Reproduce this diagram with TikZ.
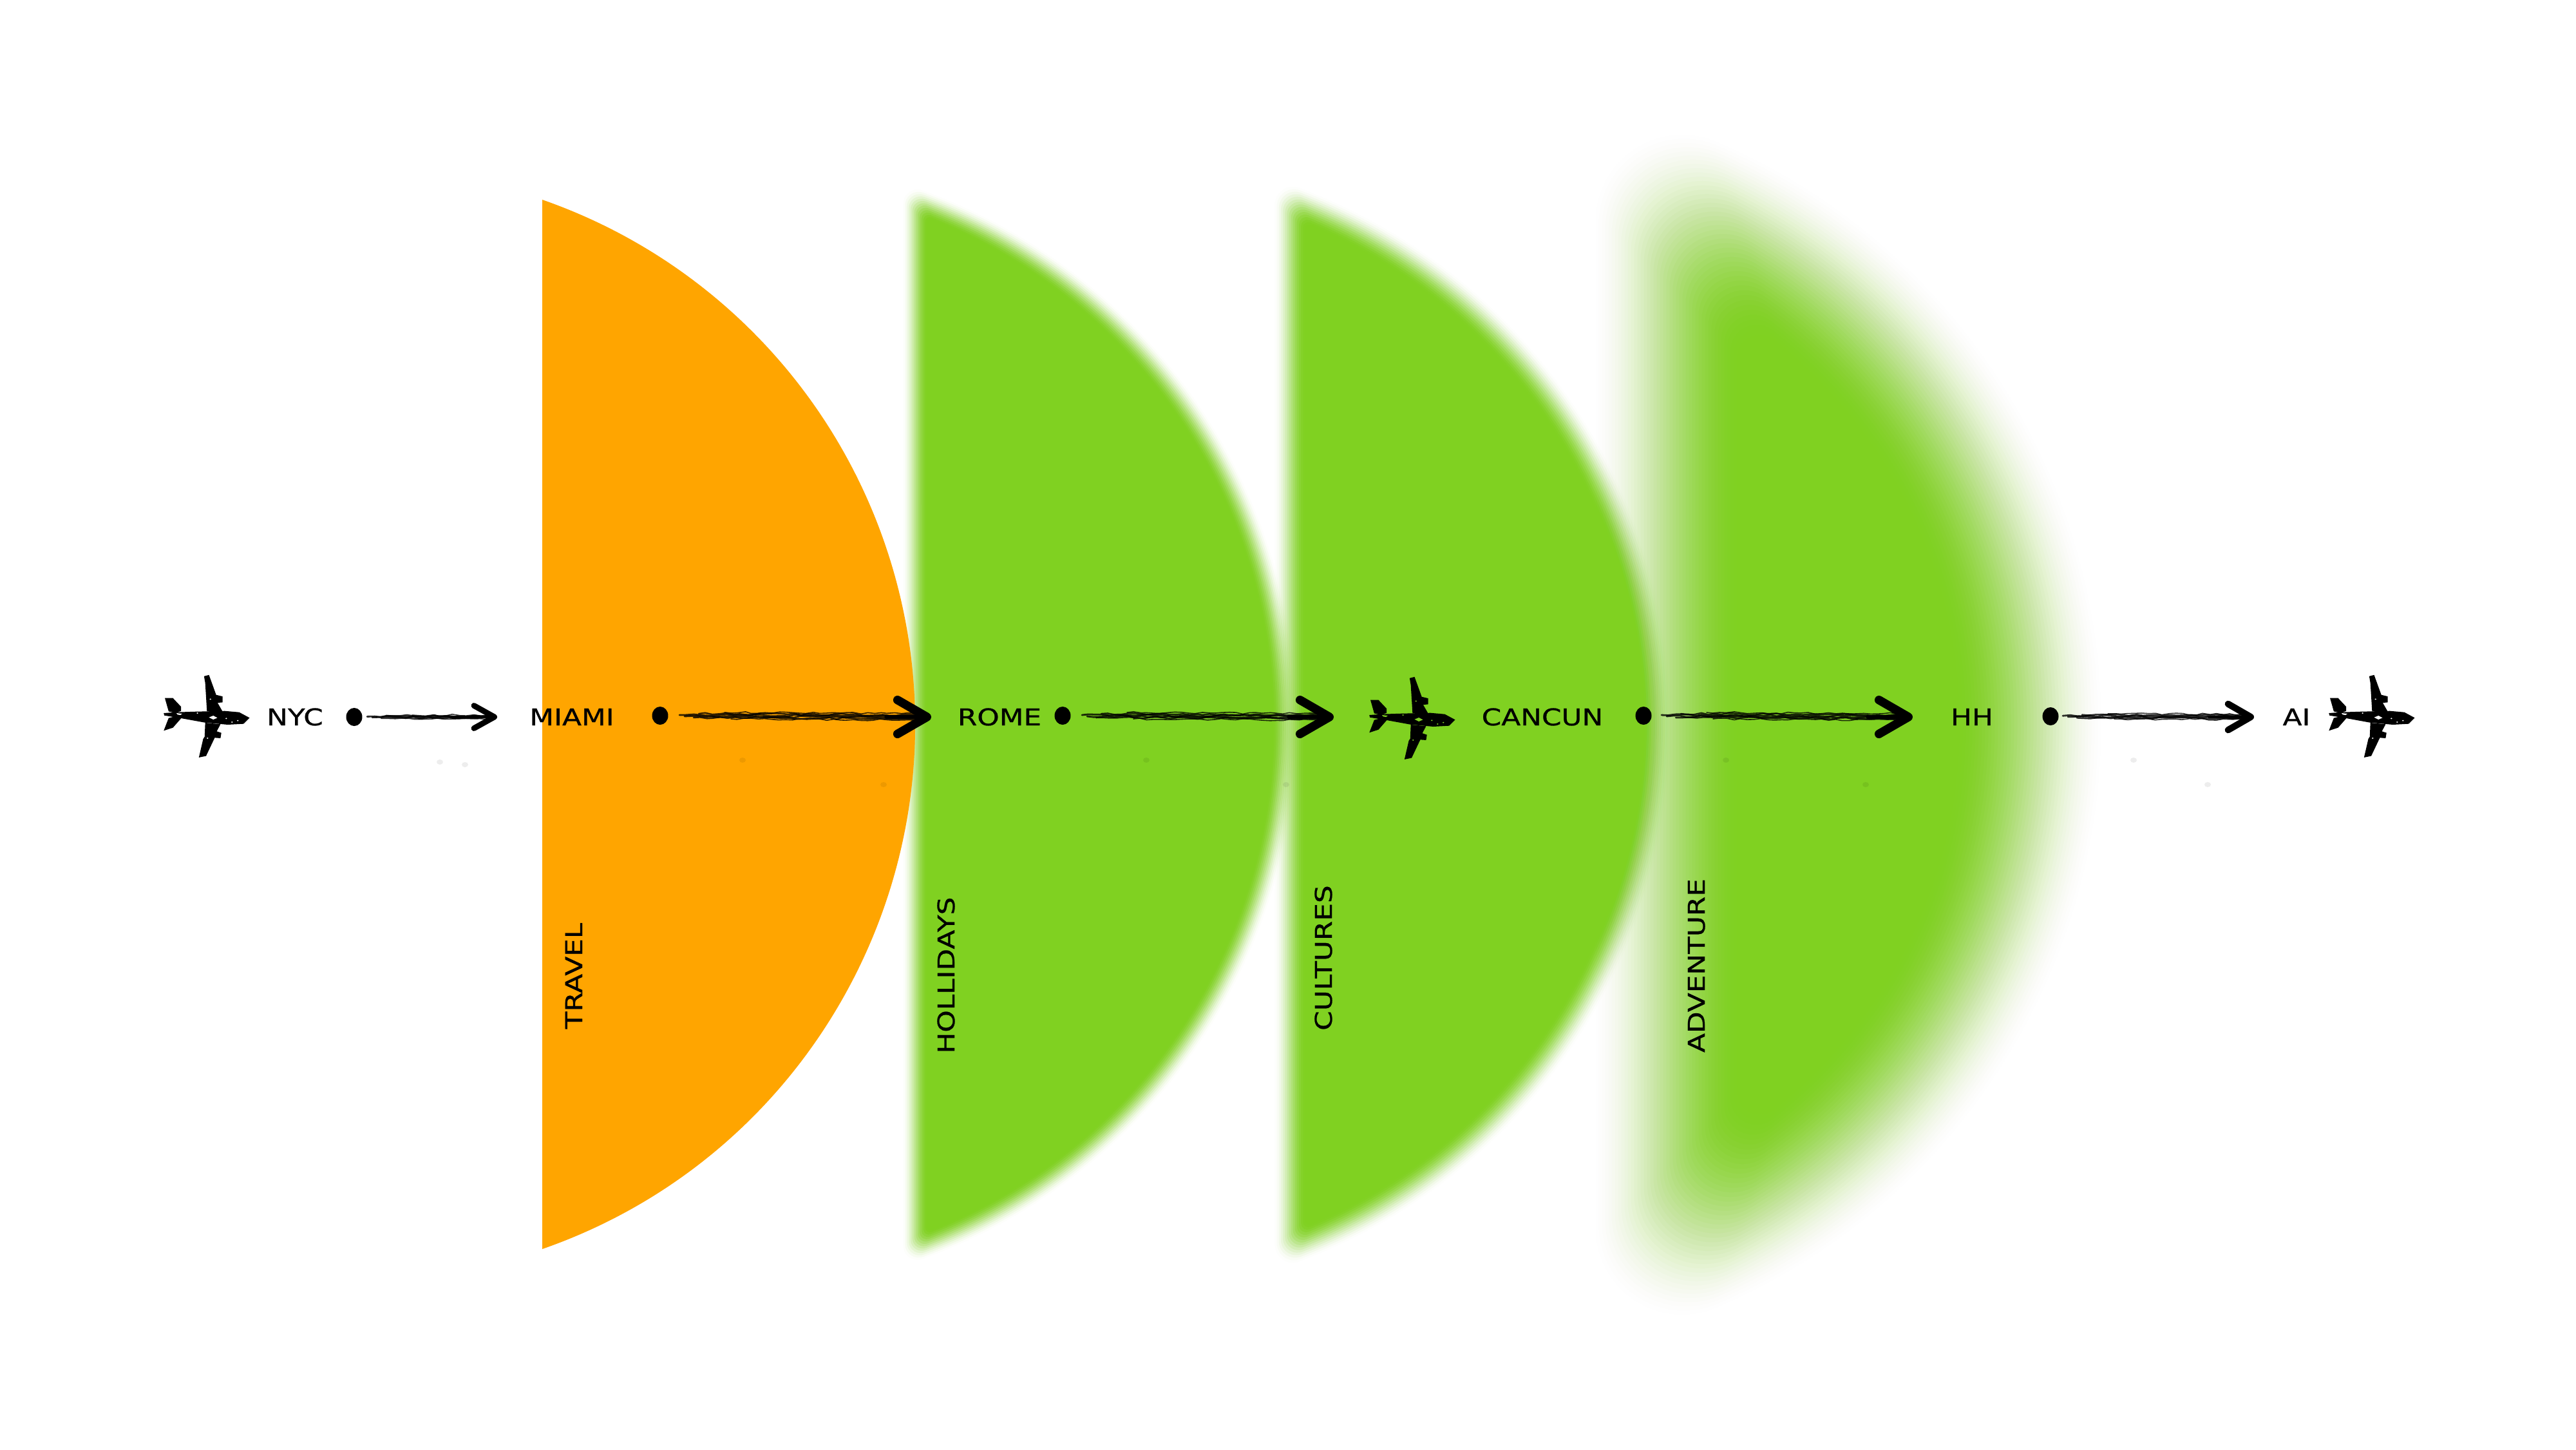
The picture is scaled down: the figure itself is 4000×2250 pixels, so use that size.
\documentclass[tikz,border=0pt]{standalone}
\usepackage{fontspec}
\usetikzlibrary{calc,arrows.meta,shapes.geometric,decorations.pathmorphing}
\newfontfamily\widefont[FakeStretch=1.22,FakeBold=0.7]{DejaVu Sans}
\definecolor{segorange}{HTML}{FFA500}
\definecolor{seggreen}{HTML}{80D121}
\tikzset{
  lbl/.style={font=\widefont\fontsize{10.2pt}{12pt}\selectfont,text=black,inner sep=0pt,text height=7.4pt,text depth=0pt},
  vlbl/.style={lbl,rotate=90},
  dotnode/.style={ellipse,fill=black,inner sep=0pt,minimum width=7.1pt,minimum height=8pt},
  brushline/.style={draw=black,draw opacity=.8,line cap=round,decorate,decoration={random steps,segment length=3pt,amplitude=.4pt}},
  speck/.style={fill=black,fill opacity=.07},
  pics/plane/.style={code={
    \begin{scope}[x=0.004464cm,y=-0.003333cm,shift={(-265,-335)}]
      \fill[black] (118,320)--(160,316)--(230,313)--(330,310)--(380,316)--(416,342)--(395,370)--(340,374)--(260,364)--(170,342)--(120,331)--cycle;
      \fill[black] (258,148)--(275,142)--(300,235)--(322,242)--(322,270)--(305,272)--(322,312)--(268,312)--(262,180)--cycle;
      \fill[black] (262,365)--(315,372)--(302,405)--(318,412)--(315,437)--(295,435)--(265,520)--(240,527)--(255,440)--(260,430)--cycle;
      \fill[black] (122,250)--(150,250)--(178,290)--(178,310)--(160,320)--(135,312)--cycle;
      \fill[black] (165,333)--(178,345)--(150,388)--(118,402)--(135,343)--cycle;
      \fill[#1] (275,340)--(290,332)--(304,342)--(290,350)--cycle;
      \fill[#1] (162,320)--(182,323)--(176,329)--(166,327)--cycle;
      \foreach \sx/\sy in {235/320,335/345,375/355,355/362,280/255,270/437}
        \fill[#1] (\sx,\sy) circle[radius=3];
    \end{scope}
  }}
}
% blurred circular segment: chord x, centre x, radius, half-width of blur, layers
\newcommand{\blurseg}[5]{%
  \foreach \k in {1,...,#5}{
    \pgfmathsetmacro{\tA}{(\k-1)/#5}
    \pgfmathsetmacro{\tB}{\k/#5}
    \pgfmathsetmacro{\Aa}{3*\tA*\tA-2*\tA*\tA*\tA}
    \pgfmathsetmacro{\Ab}{3*\tB*\tB-2*\tB*\tB*\tB}
    \pgfmathsetmacro{\al}{\k==#5?1:1-(1-\Ab)/(1-\Aa)}
    \pgfmathsetmacro{\dd}{#4*(1-2*(\k-.5)/#5)}
    \pgfmathsetmacro{\Rb}{#3+\dd}
    \pgfmathsetmacro{\Xb}{#1-\dd}
    \pgfmathsetmacro{\cc}{.7*#4+.45*\dd}
    \pgfmathsetmacro{\Hb}{100*sqrt(((\Rb-\cc)/100)^2-((\Xb+\cc-#2)/100)^2)}
    \pgfmathsetmacro{\Tb}{atan2(\Hb,\Xb+\cc-#2)}
    \pgfmathsetmacro{\sx}{#2+\Rb*cos(\Tb)}
    \pgfmathsetmacro{\sy}{1125+\Rb*sin(\Tb)}
    \pgfmathsetmacro{\ey}{1125+\Hb}
    \fill[seggreen,fill opacity=\al] (\sx,\sy)
      arc[start angle=-\Tb,end angle=\Tb,radius={\Rb*0.01cm}]
      arc[start angle=\Tb,end angle=180,radius={\cc*0.01cm}]
      -- (\Xb,\ey)
      arc[start angle=180,end angle=360-\Tb,radius={\cc*0.01cm}] -- cycle;
  }
}
% sketchy arrow: from node, to node, offset from start, offset before end, half width of shaft, head length, head width, head line width (pt)
\newcommand{\sketcharrow}[8]{%
  \foreach \f/\s/\lw in {-1/70/.45pt,-.6/30/.7pt,-.2/0/.8pt,.2/8/.8pt,.6/22/.7pt,1/80/.45pt}{
    \draw[brushline,line width=\lw] ($(#1)+({#3+\s},{\f*#5})$) -- ($(#2)+({-(#4)-5},{\f*#5})$);
  }
  \draw[black,line width=#8*.4,line cap=round,line join=round,-{Straight Barb[length=#6,width=#7,line width=#8,round]}]
    ($(#2)+({-(#4)-70},0)$) -- ($(#2)+(-#4,0)$);
}
\begin{document}
\begin{tikzpicture}[x=0.01cm,y=-0.01cm]
\fill[white] (0,0) rectangle (4000,2250);
\useasboundingbox (0,0) rectangle (4000,2250);
% segments
\blurseg{1421}{1131}{864}{20}{14}
\blurseg{2003}{1704}{867}{25}{16}
\blurseg{2590}{2278}{872}{120}{48}
\fill[segorange] (842,1939) arc[start angle=-70.8,end angle=70.8,radius=8.62cm] -- cycle;
% faint specks
\foreach \px/\py in {683/1183,722/1187,1153/1180,1372/1218,1780/1180,1997/1218,2680/1180,2897/1218,3313/1180,3428/1218}
  \fill[speck] (\px,\py) ellipse[x radius=5,y radius=4];
% city labels and dots
\node[lbl] (nyc) at (458,1113) {NYC};
\node[lbl] (miami) at (888,1113) {MIAMI};
\node[lbl] (rome) at (1552,1113) {ROME};
\node[lbl] (cancun) at (2395,1113) {CANCUN};
\node[lbl] (hh) at (3062,1113) {HH};
\node[lbl] (ai) at (3566,1113) {AI};
\node[dotnode] (d1) at (550,1113) {};
\node[dotnode] (d2) at (1025,1111) {};
\node[dotnode] (d3) at (1650,1111) {};
\node[dotnode] (d4) at (2552,1111) {};
\node[dotnode] (d5) at (3184,1112) {};
% connectors
\pgfmathsetseed{17}
\sketcharrow{d1}{miami}{20}{116}{3}{9pt}{10pt}{2.5pt}
\sketcharrow{d2}{rome}{30}{106}{5}{13pt}{15pt}{3.8pt}
\sketcharrow{d3}{cancun}{30}{324}{5}{13pt}{15pt}{3.8pt}
\sketcharrow{d4}{hh}{28}{92}{5}{13pt}{15pt}{3.8pt}
\sketcharrow{d5}{ai}{19}{66}{4}{10pt}{11.5pt}{2.9pt}
% planes
\pic (p1) at (320,1112) {plane=white};
\pic (p2) at (2192,1115) {plane=seggreen};
\pic (p3) at (3682,1112) {plane=white};
% vertical labels
\node[vlbl] (travel) at (891,1515) {TRAVEL};
\node[vlbl] (holl) at (1469,1514) {HOLLIDAYS};
\node[vlbl] (cult) at (2055,1487) {CULTURES};
\node[vlbl] (adv) at (2634,1499) {ADVENTURE};
\end{tikzpicture}
\end{document}
